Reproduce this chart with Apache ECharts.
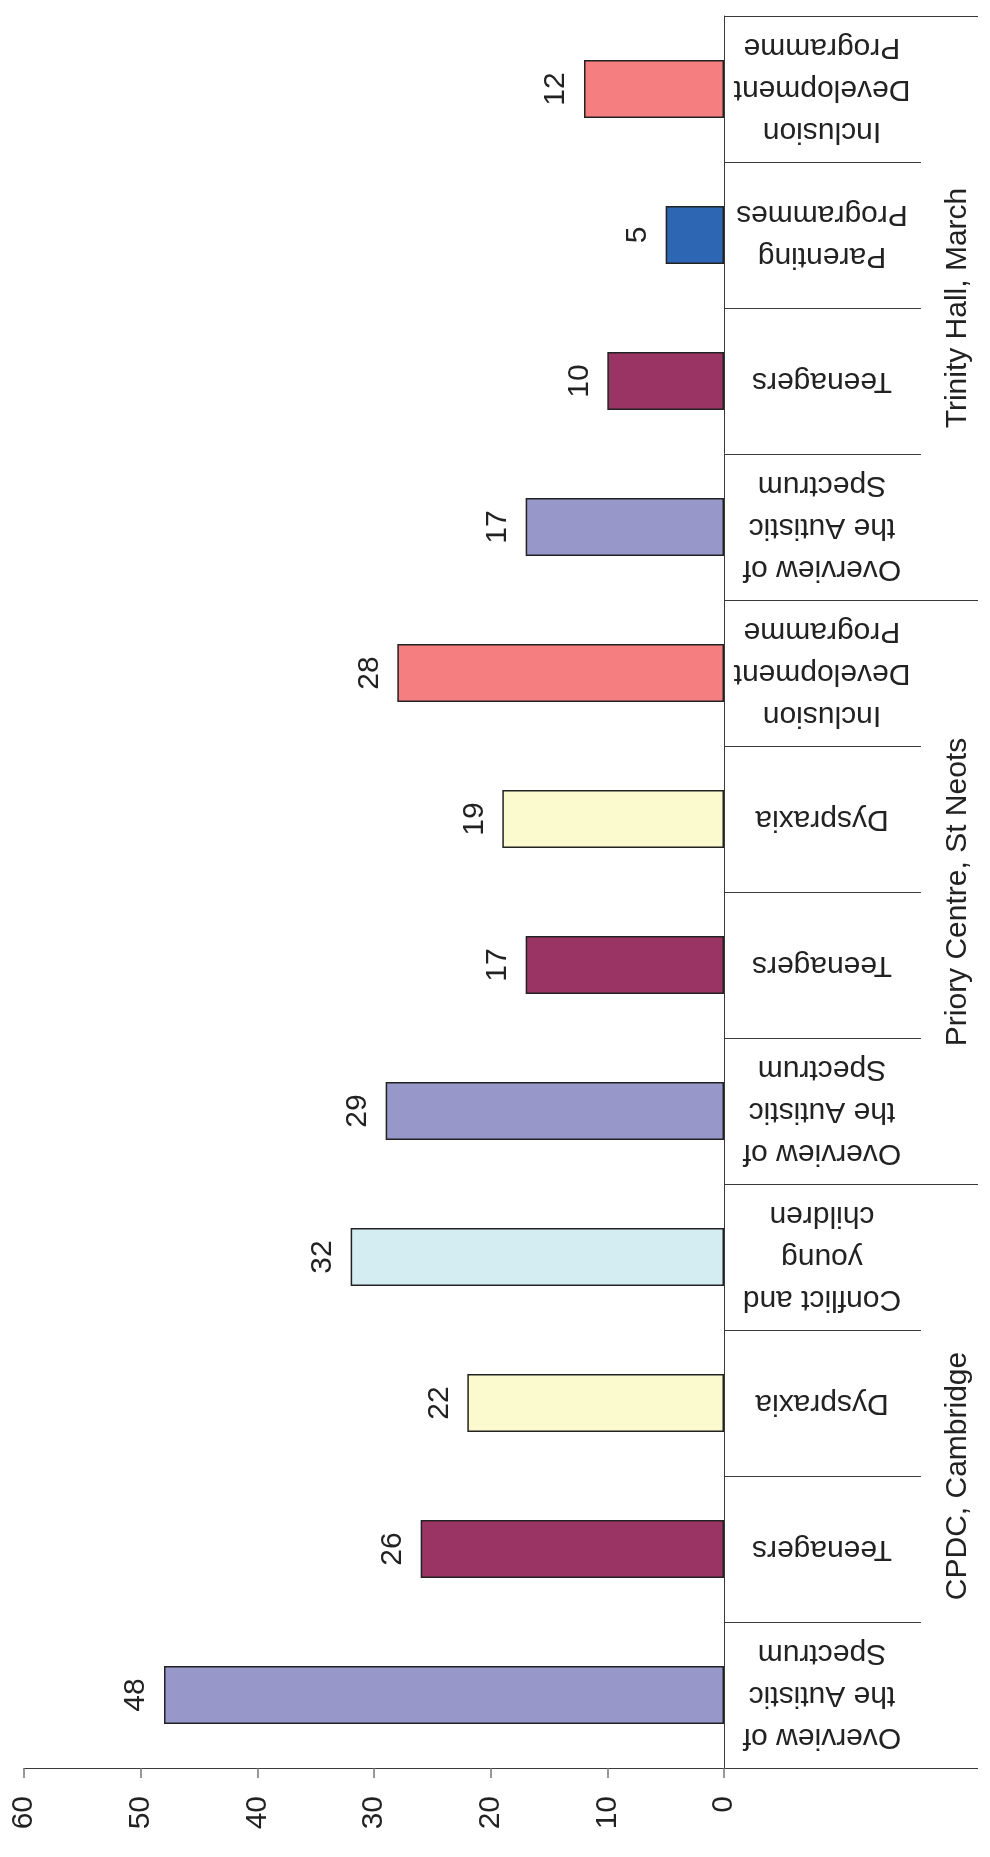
<!DOCTYPE html>
<html>
<head>
<meta charset="utf-8">
<style>
  html, body { margin: 0; padding: 0; background: #ffffff; }
  #chart { width: 990px; height: 1857px; }
</style>
<script src="https://cdn.jsdelivr.net/npm/echarts@6/dist/echarts.min.js"></script>
</head>
<body>
<div id="chart"></div>
<script>
// Course attendance by venue (bottom to top)
const courseLabels = [
  'Overview of\nthe Autistic\nSpectrum', 'Teenagers', 'Dyspraxia', 'Conflict and\nyoung\nchildren',
  'Overview of\nthe Autistic\nSpectrum', 'Teenagers', 'Dyspraxia', 'Inclusion\nDevelopment\nProgramme',
  'Overview of\nthe Autistic\nSpectrum', 'Teenagers', 'Parenting\nProgrammes', 'Inclusion\nDevelopment\nProgramme'
];
const attendance = [48, 26, 22, 32, 29, 17, 19, 28, 17, 10, 5, 12];
const barColors = [
  '#9797c9', '#9a3464', '#fbf9ce', '#d4edf3',
  '#9797c9', '#9a3464', '#fbf9ce', '#f47e80',
  '#9797c9', '#9a3464', '#2d66b2', '#f47e80'
];
const venues = ['CPDC, Cambridge', 'Priory Centre, St Neots', 'Trinity Hall, March'];
const valueTicks = { min: 0, max: 60, interval: 10 };

const FONT = '"Liberation Sans", Arial, Helvetica, sans-serif';
const INK = '#222';
const LINE = '#3a3a3a';

const chart = echarts.init(document.getElementById('chart'), null, { renderer: 'canvas' });

chart.setOption({
  backgroundColor: '#ffffff',
  animation: false,
  grid: { left: 24, right: 266, top: 16, bottom: 89, containLabel: false },
  xAxis: {
    type: 'value',
    inverse: true,
    position: 'bottom',
    min: valueTicks.min,
    max: valueTicks.max,
    interval: valueTicks.interval,
    splitLine: { show: false },
    axisLine: { show: true, lineStyle: { color: LINE, width: 1 } },
    axisTick: { show: true, length: 10, lineStyle: { color: '#777', width: 1.5 } },
    axisLabel: {
      rotate: 90,
      margin: 28,
      fontSize: 30,
      fontFamily: FONT,
      color: INK
    }
  },
  yAxis: [
    {
      type: 'category',
      position: 'right',
      data: courseLabels,
      axisLine: { show: true, lineStyle: { color: LINE, width: 1 } },
      axisTick: { show: true, interval: 0, length: 197, lineStyle: { color: LINE, width: 1 } },
      axisLabel: {
        interval: 0,
        rotate: 180,
        margin: 98,
        align: 'center',
        verticalAlign: 'middle',
        fontSize: 30,
        lineHeight: 42,
        fontFamily: FONT,
        color: INK
      }
    },
    {
      type: 'category',
      position: 'right',
      data: venues,
      axisLine: { show: false },
      axisTick: { show: true, interval: 0, length: 254, lineStyle: { color: LINE, width: 1 } },
      axisLabel: {
        interval: 0,
        rotate: 90,
        margin: 234,
        align: 'center',
        verticalAlign: 'middle',
        fontSize: 30,
        fontFamily: FONT,
        color: INK
      }
    }
  ],
  series: [
    {
      type: 'bar',
      yAxisIndex: 0,
      barWidth: 58,
      data: attendance.map((v, i) => ({
        value: v,
        itemStyle: { color: barColors[i] }
      })),
      itemStyle: { borderColor: '#222', borderWidth: 1.5 },
      label: {
        show: true,
        position: 'left',
        rotate: 90,
        align: 'center',
        verticalAlign: 'bottom',
        distance: 13,
        fontSize: 30,
        fontFamily: FONT,
        color: INK
      }
    }
  ]
});
</script>
</body>
</html>
